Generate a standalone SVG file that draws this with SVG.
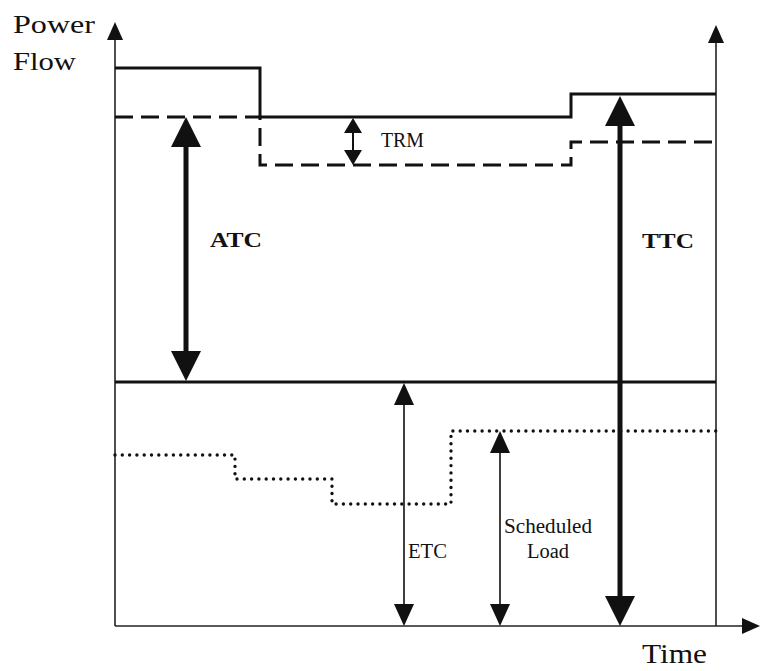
<svg xmlns="http://www.w3.org/2000/svg" width="760" height="671" viewBox="0 0 760 671">
<style>
.t{font-family:"Liberation Serif","Times New Roman",serif;fill:#111}
.axis{stroke:#222;stroke-width:1.6;fill:none}
.cap{stroke:#111;stroke-width:3;fill:none}
.dash{stroke:#111;stroke-width:3;fill:none;stroke-dasharray:18 8}
.dot{stroke:#111;stroke-width:3.4;fill:none;stroke-dasharray:0 7.3;stroke-linecap:round}
.big{stroke:#111;stroke-width:5;fill:none;marker-start:url(#bigH);marker-end:url(#bigH)}
.thin{stroke:#111;stroke-width:1.6;fill:none;marker-start:url(#thinH);marker-end:url(#thinH)}
</style>
<defs>
<marker id="bigH" markerUnits="userSpaceOnUse" viewBox="0 0 30 30" markerWidth="30" markerHeight="30" refX="0" refY="15" orient="auto-start-reverse"><path d="M0,0 L30,15 L0,30 Z" fill="#111"/></marker>
<marker id="thinH" markerUnits="userSpaceOnUse" viewBox="0 0 22 20" markerWidth="22" markerHeight="20" refX="0" refY="10" orient="auto-start-reverse"><path d="M0,0 L22,10 L0,20 Z" fill="#111"/></marker>
<marker id="trmH" markerUnits="userSpaceOnUse" viewBox="0 0 15 18" markerWidth="15" markerHeight="18" refX="0" refY="9" orient="auto-start-reverse"><path d="M0,0 L15,9 L0,18 Z" fill="#111"/></marker>
<marker id="axH" markerUnits="userSpaceOnUse" viewBox="0 0 18 16" markerWidth="18" markerHeight="16" refX="0" refY="8" orient="auto"><path d="M0,0 L18,8 L0,16 Z" fill="#111"/></marker>
</defs>
<g id="axes">
<line class="axis" x1="115" y1="626" x2="115" y2="40" marker-end="url(#axH)"/>
<line class="axis" x1="716" y1="626" x2="716" y2="43" marker-end="url(#axH)"/>
<line class="axis" x1="115" y1="626" x2="742" y2="626" marker-end="url(#axH)"/>
<line class="cap" x1="115" y1="382" x2="716" y2="382"/>
</g>
<g id="ttc-line"><path class="cap" d="M115,68 H260 V117 H571 V94 H716"/></g>
<g id="atc-line"><path class="dash" d="M115,117 H260 V165 H571 V142 H716"/></g>
<g id="load-line"><path class="dot" d="M115,455 H235 V479 H332 V504 H451 V431 H716"/></g>
<g id="connectors">
<line class="big" x1="186" y1="147" x2="186" y2="351"/>
<line class="big" x1="620" y1="126" x2="620" y2="596"/>
<line class="thin" x1="404" y1="405" x2="404" y2="604"/>
<line class="thin" x1="500" y1="453" x2="500" y2="604"/>
<line x1="353" y1="133" x2="353" y2="150" stroke="#111" stroke-width="2" marker-start="url(#trmH)" marker-end="url(#trmH)"/>
</g>
<g id="labels">
<text class="t" x="13" y="33" font-size="26" textLength="82" lengthAdjust="spacingAndGlyphs">Power</text>
<text class="t" x="13" y="70" font-size="26" textLength="63" lengthAdjust="spacingAndGlyphs">Flow</text>
<text class="t" x="642" y="663" font-size="27" textLength="65" lengthAdjust="spacingAndGlyphs">Time</text>
<text class="t" x="381" y="147" font-size="20" textLength="43" lengthAdjust="spacingAndGlyphs">TRM</text>
<text class="t" x="210" y="247" font-size="22" font-weight="bold" textLength="52" lengthAdjust="spacingAndGlyphs">ATC</text>
<text class="t" x="642" y="248" font-size="22" font-weight="bold" textLength="52" lengthAdjust="spacingAndGlyphs">TTC</text>
<text class="t" x="408" y="558" font-size="20" textLength="39" lengthAdjust="spacingAndGlyphs">ETC</text>
<text class="t" x="504" y="533" font-size="20" textLength="88" lengthAdjust="spacingAndGlyphs">Scheduled</text>
<text class="t" x="527" y="558" font-size="20" textLength="42" lengthAdjust="spacingAndGlyphs">Load</text>
</g>
</svg>
